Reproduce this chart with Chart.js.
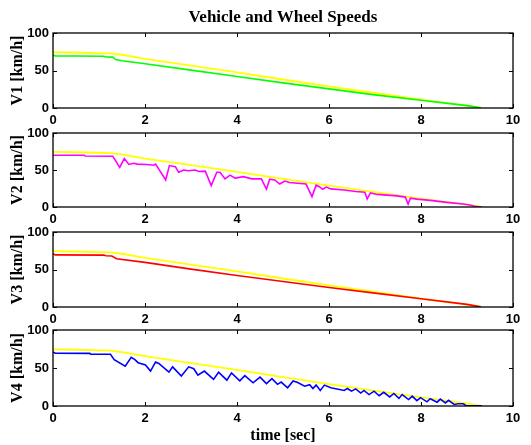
<!DOCTYPE html>
<html>
<head>
<meta charset="utf-8">
<title>Vehicle and Wheel Speeds</title>
<script src="https://cdn.jsdelivr.net/npm/chart.js@4/dist/chart.umd.min.js"></script>
<style>
  html, body { margin: 0; padding: 0; background: #fff; }
  #fig { position: relative; width: 531px; height: 445px; overflow: hidden; background: #fff; }
  #fig canvas { position: absolute; left: 0; }
</style>
</head>
<body>
<div id="fig">
  <canvas id="p1"></canvas>
  <canvas id="p2"></canvas>
  <canvas id="p3"></canvas>
  <canvas id="p4"></canvas>
</div>
<script>
// Vehicle (reference) speed, shown in yellow on every panel
const vehicleTime  = [0, 0.5, 1.0, 1.25, 1.5, 2, 3, 4, 5, 6, 7, 8, 9, 9.32];
const vehicleSpeed = [74.5, 74, 73.3, 72.8, 71, 65.5, 56.5, 47.5, 38, 28.8, 20, 11.3, 3.3, 0.3];

// Wheel 1
const wheel1Time  = [0, 0.05, 0.5, 1.1, 1.15, 1.3, 1.36, 1.5, 2, 3, 4, 5, 6, 7, 8, 9, 9.3];
const wheel1Speed = [70.5, 69.5, 69.3, 69, 68, 67.8, 64.5, 63, 59, 50.5, 42, 33.5, 25.5, 17.5, 10.3, 3.2, 0.3];

// Wheel 2
const wheel2Time  = [0, 0.68, 0.7, 1.3, 1.45, 1.55, 1.65, 1.76, 1.83, 2.03, 2.19, 2.23, 2.45, 2.53, 2.66,
                     2.73, 2.84, 2.95, 3.09, 3.17, 3.31, 3.44, 3.56, 3.63, 3.74, 3.85, 3.96, 4.14, 4.32, 4.53,
                     4.64, 4.71, 4.82, 4.93, 5.04, 5.14, 5.32, 5.5, 5.63, 5.72, 5.79, 5.86, 5.94, 6.04, 6.33,
                     6.58, 6.78, 6.83, 6.9, 7.05, 7.48, 7.66, 7.72, 7.77, 7.91, 8.2, 8.56, 8.92, 9.06, 9.17, 9.32];
const wheel2Speed = [70, 70, 69, 68.5, 53.5, 65.5, 57.5, 59, 58, 57.5, 56.5, 58, 36.5, 56, 54.5,
                     47, 50, 49, 50, 48, 48.5, 29, 47, 47, 38, 43, 39, 41, 38, 38,
                     24, 37.5, 36.5, 31, 35, 33, 32, 31, 14, 29.5, 27.5, 24, 27, 24.5, 23,
                     21, 20, 10.7, 19, 17, 15, 13.4, 4, 12, 10.7, 9, 6.3, 4, 2.7, 1, 0];

// Wheel 3
const wheel3Time  = [0, 0.05, 1.1, 1.15, 1.28, 1.38, 2, 3, 4, 5, 6, 7, 8, 9, 9.3];
const wheel3Speed = [71, 69.5, 69.2, 68.3, 68, 64.3, 59.5, 50.5, 42, 34, 26, 18.5, 11, 3.5, 0.3];

// Wheel 4
const wheel4Time  = [0, 0.05, 0.8, 0.82, 1.25, 1.33, 1.57, 1.7, 1.78, 1.85, 2.01, 2.12, 2.23, 2.3, 2.52,
                     2.6, 2.79, 2.95, 3.06, 3.15, 3.29, 3.49, 3.6, 3.78, 3.88, 4.06, 4.17, 4.35, 4.5, 4.64,
                     4.76, 4.88, 4.96, 5.1, 5.22, 5.32, 5.47, 5.58, 5.65, 5.72, 5.81, 5.9, 6.04, 6.12, 6.33,
                     6.4, 6.49, 6.58, 6.69, 6.76, 6.87, 6.98, 7.09, 7.19, 7.32, 7.41, 7.52, 7.59, 7.73, 7.81,
                     7.91, 7.99, 8.13, 8.2, 8.35, 8.42, 8.53, 8.6, 8.72, 8.81, 8.92, 8.99, 9.32];
const wheel4Speed = [71, 69.5, 69.3, 68, 68, 61, 52.5, 64, 61, 57, 54, 46, 58, 56, 44.5,
                     51.5, 39.5, 51.5, 49, 40.5, 46, 35, 44.5, 34, 43.5, 33, 40, 30.5, 38, 29.5,
                     36, 28.5, 31.5, 24, 33, 31, 26, 28, 23, 27.5, 20.5, 27.5, 24, 23, 20.5,
                     23, 19.5, 22.5, 17, 20.5, 15, 19.5, 13.5, 18, 12, 16.5, 10, 15, 8.5, 13,
                     7, 11, 5.5, 9.5, 5, 9, 4, 7.5, 2, 3, 3, 0.2, 0.2];

// Axis ticks
const timeTicks  = [0, 2, 4, 6, 8, 10];
const speedTicks = [0, 50, 100];

const panelLabels = ['V1 [km/h]', 'V2 [km/h]', 'V3 [km/h]', 'V4 [km/h]'];
const figureTitle = 'Vehicle and Wheel Speeds';
const timeLabel   = 'time [sec]';

const toPoints = (t, v) => t.map((x, i) => ({ x: x, y: v[i] }));

const tickFont  = { family: '"Liberation Sans", Arial, sans-serif', size: 13, weight: 'bold' };
const labelFont = { family: '"Liberation Serif", "Times New Roman", serif', size: 16, weight: 'bold' };
const titleFont = { family: '"Liberation Serif", "Times New Roman", serif', size: 17, weight: 'bold' };

// Box around each axes plus inward tick marks on all four sides
const boxedAxes = {
  id: 'boxedAxes',
  afterDatasetsDraw(chart) {
    const { ctx, chartArea: a, scales } = chart;
    const len = 4;
    ctx.save();
    ctx.strokeStyle = '#000';
    ctx.lineWidth = 1;
    ctx.beginPath();
    timeTicks.forEach(v => {
      const px = Math.round(scales.x.getPixelForValue(v)) + 0.5;
      ctx.moveTo(px, a.bottom); ctx.lineTo(px, a.bottom - len);
      ctx.moveTo(px, a.top);    ctx.lineTo(px, a.top + len);
    });
    speedTicks.forEach(v => {
      const py = Math.round(scales.y.getPixelForValue(v)) + 0.5;
      ctx.moveTo(a.left, py);  ctx.lineTo(a.left + len, py);
      ctx.moveTo(a.right, py); ctx.lineTo(a.right - len, py);
    });
    ctx.stroke();
    ctx.lineWidth = 1.3;
    ctx.strokeRect(a.left, a.top, a.right - a.left, a.bottom - a.top);
    ctx.restore();
  }
};

// Panel placement on the figure
const panels = [
  { id: 'p1', top: 0,   height: 130, padTop: 0,  xHeight: 22, t: wheel1Time, v: wheel1Speed, color: '#00ff00', title: true },
  { id: 'p2', top: 110, height: 119, padTop: 23, xHeight: 22, t: wheel2Time, v: wheel2Speed, color: '#ff00ff' },
  { id: 'p3', top: 210, height: 119, padTop: 22, xHeight: 22, t: wheel3Time, v: wheel3Speed, color: '#ff0000' },
  { id: 'p4', top: 310, height: 135, padTop: 20, xHeight: 39, t: wheel4Time, v: wheel4Speed, color: '#0000ff', xTitle: true }
];

panels.forEach((p, i) => {
  const cv = document.getElementById(p.id);
  cv.width = 531; cv.height = p.height;
  cv.style.width = '531px'; cv.style.height = p.height + 'px';
  cv.style.top = p.top + 'px';

  new Chart(cv, {
    type: 'line',
    data: {
      datasets: [
        { data: toPoints(p.t, p.v), borderColor: p.color, borderWidth: 1.6, pointRadius: 0, tension: 0, fill: false },
        { data: toPoints(vehicleTime, vehicleSpeed), borderColor: '#ffff00', borderWidth: 1.8, pointRadius: 0, tension: 0, fill: false }
      ]
    },
    options: {
      responsive: false,
      animation: false,
      events: [],
      layout: { padding: { left: 0, right: 18, top: p.padTop, bottom: 0 } },
      plugins: {
        legend: { display: false },
        tooltip: { enabled: false },
        title: {
          display: !!p.title,
          text: figureTitle,
          fullSize: false,
          color: '#000',
          font: titleFont,
          padding: { top: 7.6, bottom: 5 }
        }
      },
      scales: {
        x: {
          type: 'linear',
          min: 0, max: 10,
          grid: { display: false, drawTicks: false },
          border: { display: false },
          afterBuildTicks(s) { s.ticks = timeTicks.map(v => ({ value: v })); },
          ticks: { color: '#000', font: tickFont, padding: 5, maxRotation: 0, autoSkip: false },
          title: { display: !!p.xTitle, text: timeLabel, color: '#000', font: labelFont, padding: { top: 0, bottom: 0 } },
          afterFit(s) { s.height = p.xHeight; }
        },
        y: {
          min: 0, max: 100,
          grid: { display: false, drawTicks: false },
          border: { display: false },
          afterBuildTicks(s) { s.ticks = speedTicks.map(v => ({ value: v })); },
          ticks: { color: '#000', font: tickFont, padding: 4 },
          title: { display: true, text: panelLabels[i], color: '#000', font: labelFont, padding: { top: 8, bottom: 0 } },
          afterFit(s) { s.width = 53; }
        }
      }
    },
    plugins: [boxedAxes]
  });
});
</script>
</body>
</html>
